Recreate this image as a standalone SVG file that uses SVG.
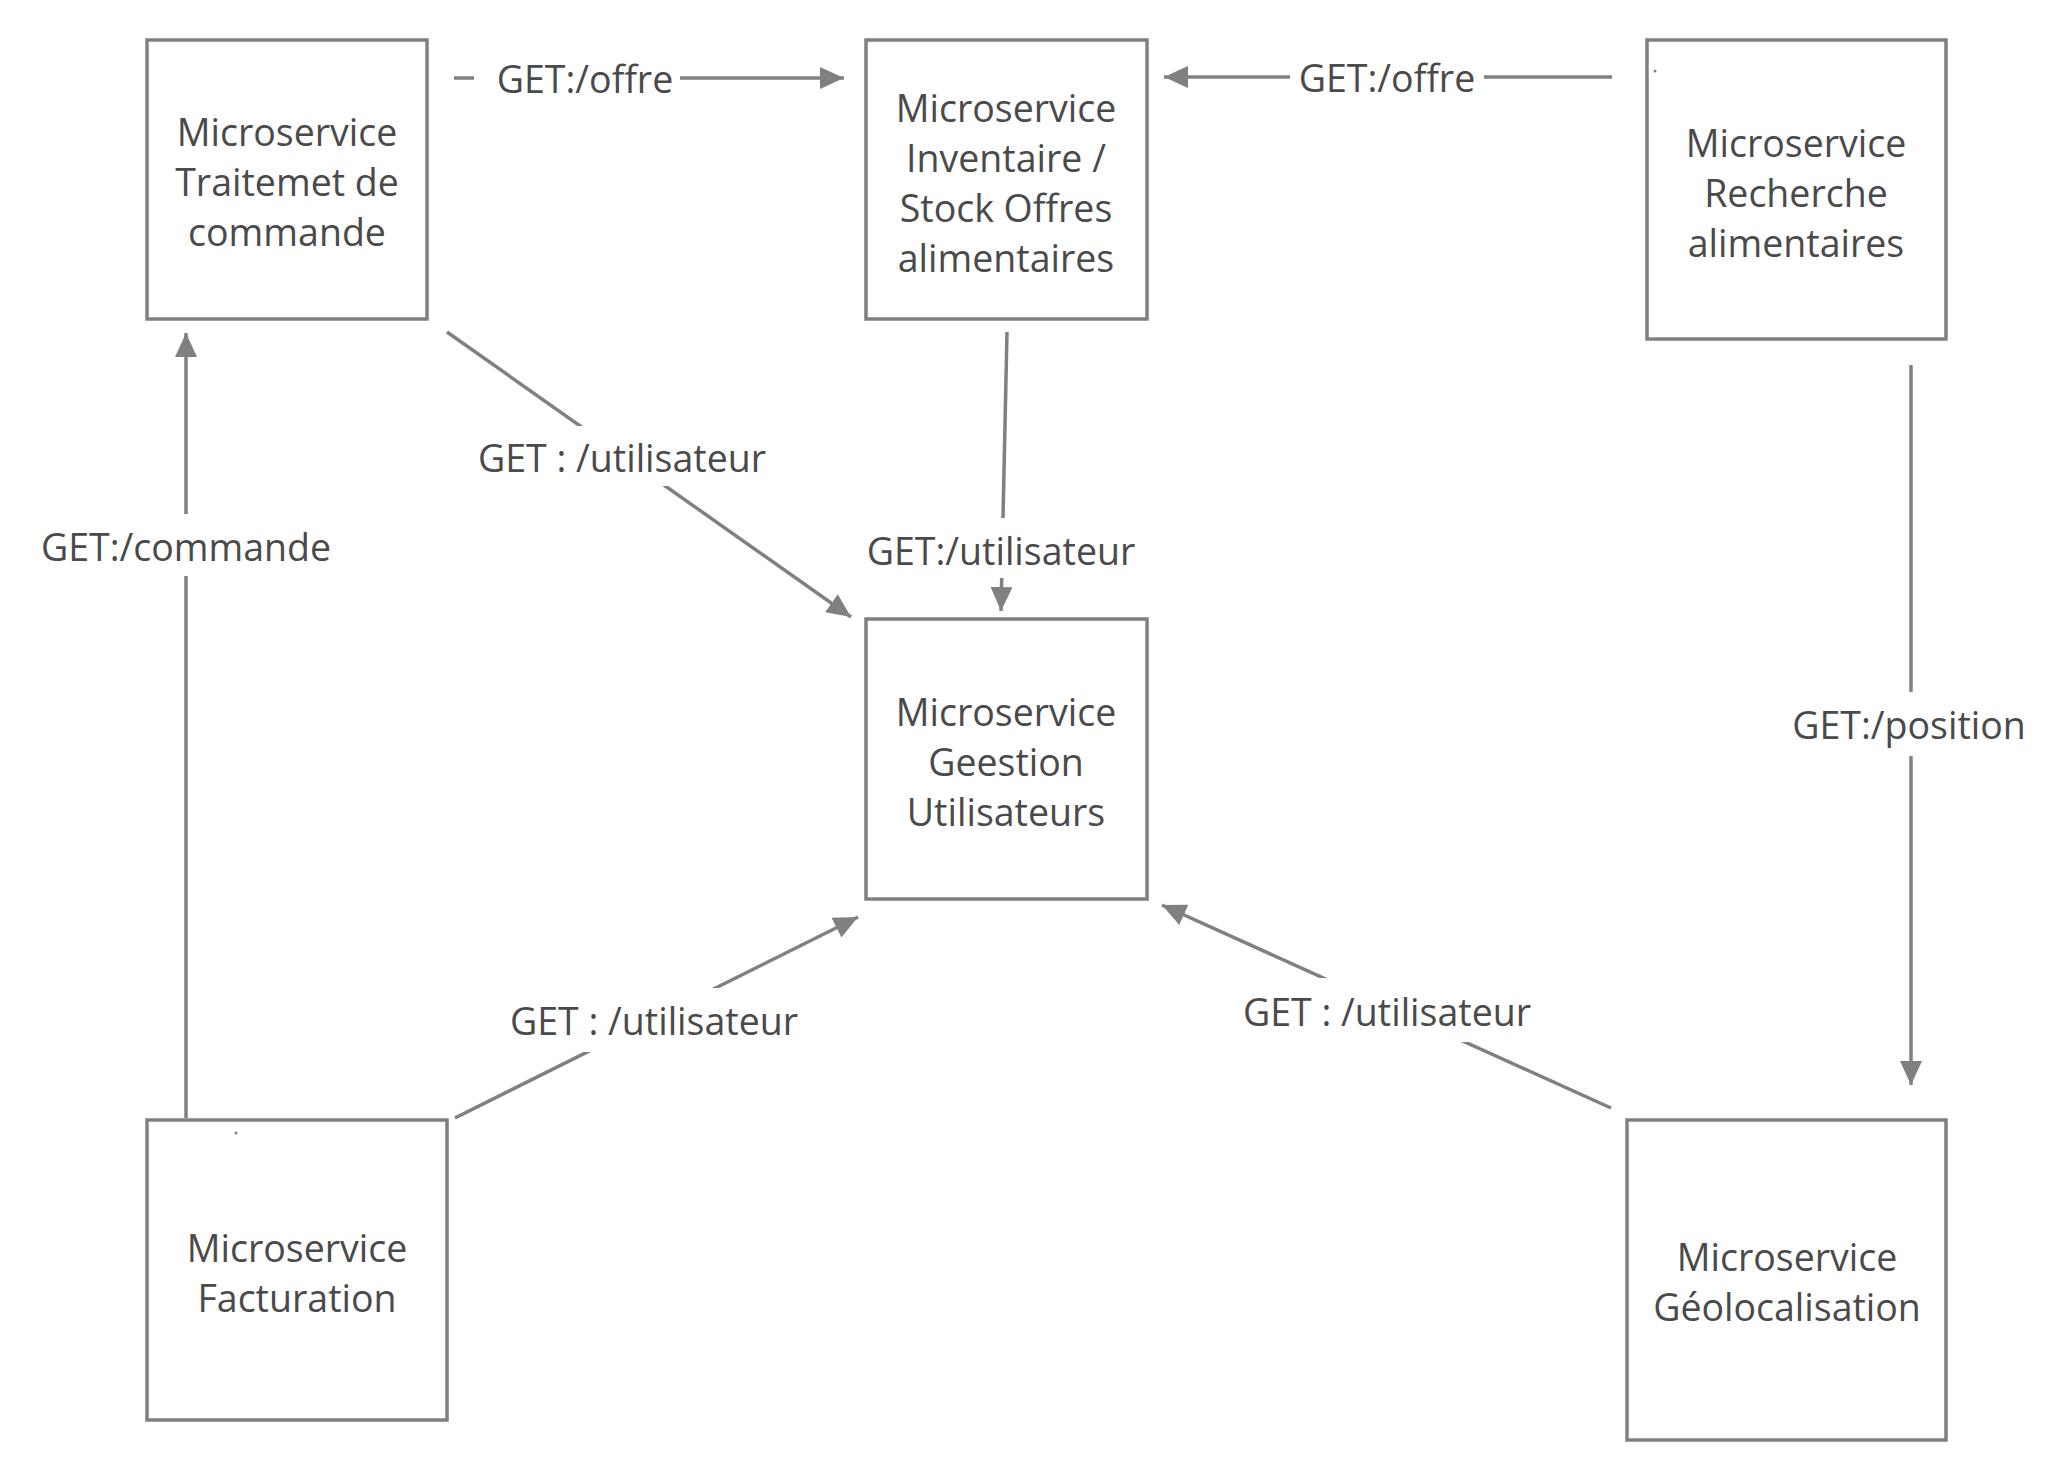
<svg xmlns="http://www.w3.org/2000/svg" width="2069" height="1480" viewBox="0 0 2069 1480">
<defs>
<style>
.box{fill:#fff;stroke:#808080;stroke-width:3.5}
.t{font-family:"Open Sans","Noto Sans","DejaVu Sans",sans-serif;font-size:37.5px;fill:#4a4a4a;text-anchor:middle}
.c{fill:none;stroke:#808080;stroke-width:3.5}
.lb{fill:#fff}
</style>
<marker id="ah" markerUnits="userSpaceOnUse" markerWidth="26" markerHeight="22" refX="24" refY="11" orient="auto">
<path d="M0,0 L24,11 L0,22 Z" fill="#808080"/>
</marker>
</defs>
<rect width="2069" height="1480" fill="#fff"/>
<g id="connectors">
<line class="c" x1="454" y1="78" x2="844" y2="78" marker-end="url(#ah)"/>
<rect class="lb" x="474" y="55" width="206" height="46"/>
<text class="t" x="585" y="92.5">GET:/offre</text>
<line class="c" x1="1612" y1="77" x2="1164" y2="77" marker-end="url(#ah)"/>
<rect class="lb" x="1290" y="54" width="194" height="46"/>
<text class="t" x="1387" y="91.5">GET:/offre</text>
<line class="c" x1="447" y1="332" x2="851" y2="617" marker-end="url(#ah)"/>
<rect class="lb" x="468" y="426" width="310" height="60"/>
<text class="t" x="622" y="471.5">GET : /utilisateur</text>
<line class="c" x1="1007" y1="332" x2="1001" y2="611" marker-end="url(#ah)"/>
<rect class="lb" x="858" y="518" width="286" height="60"/>
<text class="t" x="1001" y="564.5">GET:/utilisateur</text>
<line class="c" x1="186" y1="1118" x2="186" y2="333" marker-end="url(#ah)"/>
<rect class="lb" x="32" y="514" width="308" height="62"/>
<text class="t" x="186" y="560.5">GET:/commande</text>
<line class="c" x1="455" y1="1118" x2="858" y2="917" marker-end="url(#ah)"/>
<rect class="lb" x="496" y="988" width="316" height="64"/>
<text class="t" x="654" y="1034.5">GET : /utilisateur</text>
<line class="c" x1="1611" y1="1108" x2="1162" y2="905" marker-end="url(#ah)"/>
<rect class="lb" x="1228" y="978" width="318" height="64"/>
<text class="t" x="1387" y="1025.5">GET : /utilisateur</text>
<line class="c" x1="1911" y1="365" x2="1911" y2="1085" marker-end="url(#ah)"/>
<rect class="lb" x="1782" y="692" width="256" height="64"/>
<text class="t" x="1909" y="738.5">GET:/position</text>
</g>
<g id="node-traitement">
<rect class="box" x="147" y="40" width="280" height="279"/>
<text class="t" x="287" y="145.5">Microservice</text>
<text class="t" x="287" y="195.5">Traitemet de</text>
<text class="t" x="287" y="245.5">commande</text>
</g>
<g id="node-inventaire">
<rect class="box" x="866" y="40" width="281" height="279"/>
<text class="t" x="1006" y="121.5">Microservice</text>
<text class="t" x="1006" y="171.5">Inventaire /</text>
<text class="t" x="1006" y="221.5">Stock Offres</text>
<text class="t" x="1006" y="271.5">alimentaires</text>
</g>
<g id="node-recherche">
<rect class="box" x="1647" y="40" width="299" height="299"/>
<circle cx="1655" cy="71" r="1.5" fill="#808080"/>
<text class="t" x="1796" y="156.5">Microservice</text>
<text class="t" x="1796" y="206.5">Recherche</text>
<text class="t" x="1796" y="256.5">alimentaires</text>
</g>
<g id="node-gestion">
<rect class="box" x="866" y="619" width="281" height="280"/>
<text class="t" x="1006" y="725.5">Microservice</text>
<text class="t" x="1006" y="775.5">Geestion</text>
<text class="t" x="1006" y="825.5">Utilisateurs</text>
</g>
<g id="node-facturation">
<rect class="box" x="147" y="1120" width="300" height="300"/>
<circle cx="236" cy="1133" r="1.5" fill="#808080"/>
<text class="t" x="297" y="1261.5">Microservice</text>
<text class="t" x="297" y="1311.5">Facturation</text>
</g>
<g id="node-geolocalisation">
<rect class="box" x="1627" y="1120" width="319" height="320"/>
<text class="t" x="1787" y="1270.5">Microservice</text>
<text class="t" x="1787" y="1320.5">Géolocalisation</text>
</g>
</svg>
